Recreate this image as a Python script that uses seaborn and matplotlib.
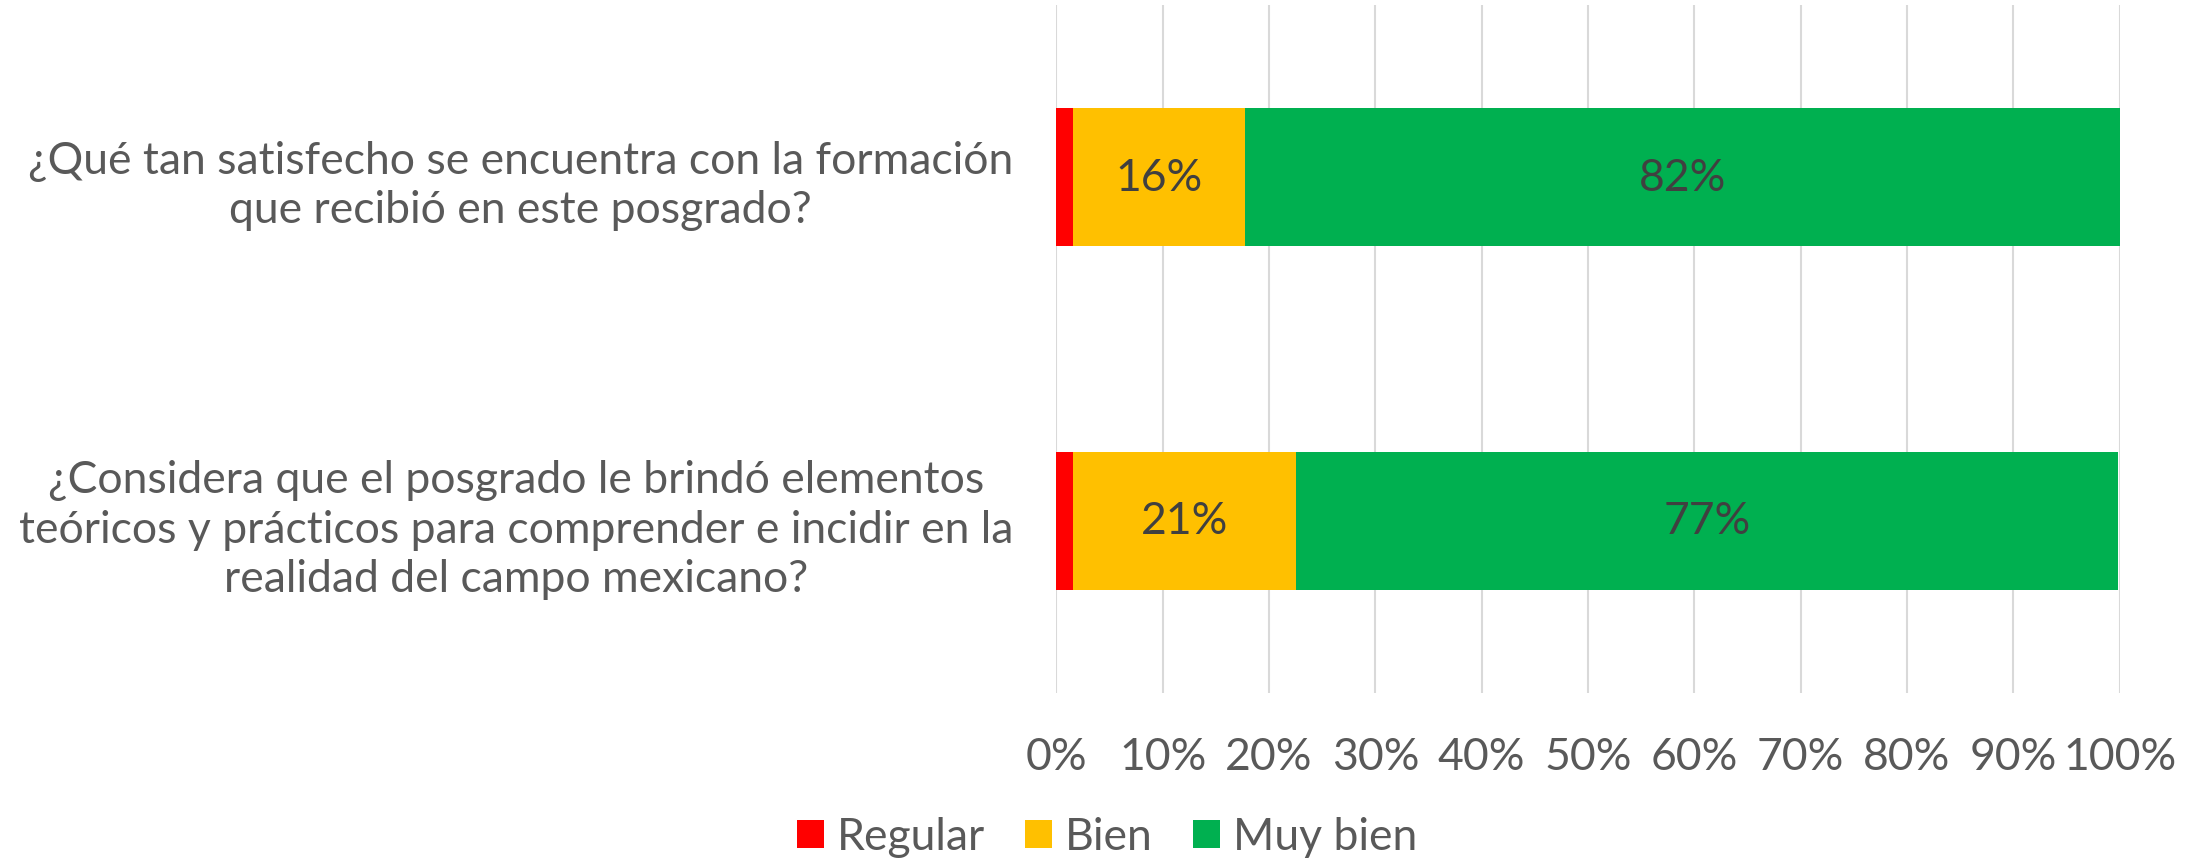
import matplotlib
matplotlib.use("Agg")
import matplotlib.pyplot as plt
import seaborn as sns
import numpy as np
import pandas as pd
from matplotlib.patches import Patch
from matplotlib.ticker import PercentFormatter

questions = [
    "¿Qué tan satisfecho se encuentra con la formación\nque recibió en este posgrado?",
    "¿Considera que el posgrado le brindó elementos\nteóricos y prácticos para comprender e incidir en la\nrealidad del campo mexicano?",
]
series = ["Regular", "Bien", "Muy bien"]
regular = [1.6, 1.6]
bien = [16.1, 20.9]
muy_bien = [82.3, 77.4]
colors = ["#FF0000", "#FFC000", "#00B050"]
xticks = list(range(0, 101, 10))

sns.set_theme(style="white")
plt.rcParams["font.family"] = ["Lato", "DejaVu Sans"]
text_color = "#595959"
fs = 32

fig = plt.figure(figsize=(22.01, 8.62), dpi=100)
ax = fig.add_axes([0.480, 0.195, 0.483, 0.798])

vals = np.array([regular, bien, muy_bien])
cum = np.cumsum(vals, axis=0)
df = pd.DataFrame({"q": questions})
# draw cumulative totals from largest to smallest so segments stack
for i in reversed(range(len(series))):
    d = df.copy()
    d["v"] = cum[i]
    sns.barplot(data=d, x="v", y="q", orient="h", color=colors[i],
                width=0.4, ax=ax, saturation=1, linewidth=0, zorder=3)

# data labels for Bien and Muy bien
for i in [1, 2]:
    for j in range(len(questions)):
        left = cum[i - 1][j]
        ax.text(left + vals[i][j] / 2, j, f"{vals[i][j]:.0f}%", ha="center",
                va="center", fontsize=fs, color="#404040", zorder=4)

ax.set_xlim(0, 100)
ax.set_ylim(1.5, -0.5)
ax.set_xticks(xticks)
ax.xaxis.set_major_formatter(PercentFormatter(decimals=0))
ax.grid(axis="x", color="#D9D9D9", linewidth=1.5, zorder=0)
ax.set_axisbelow(True)
for s in ax.spines.values():
    s.set_visible(False)
ax.set_xlabel("")
ax.set_ylabel("")
ax.tick_params(axis="x", length=0, pad=31, labelsize=fs, labelcolor=text_color)
ax.tick_params(axis="y", length=0, pad=31, labelsize=fs, labelcolor=text_color)
for lab in ax.get_yticklabels():
    lab.set_multialignment("center")
    lab.set_linespacing(1.25)

handles = [Patch(facecolor=c, edgecolor="none") for c in colors]
fig.legend(handles, series, loc="center", bbox_to_anchor=(0.503, 0.028), ncol=3,
           frameon=False, fontsize=fs, labelcolor=text_color, handlelength=0.6,
           handleheight=0.6, handletextpad=0.3, columnspacing=0.9)

fig.savefig("out.png", dpi=100, facecolor="white")
